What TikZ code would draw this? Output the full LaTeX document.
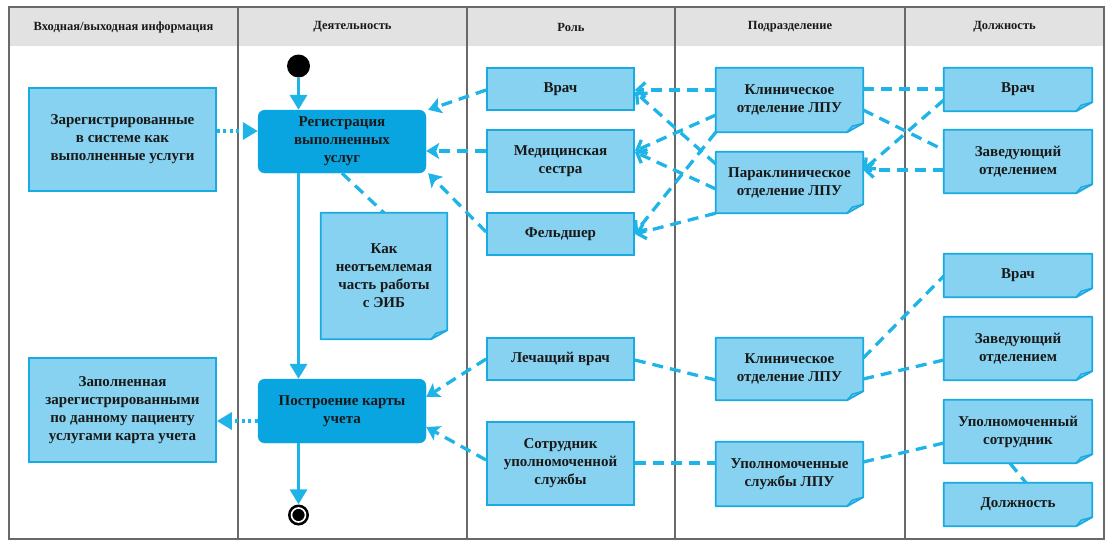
\documentclass[tikz,border=0pt]{standalone}
\usepackage{fontspec}
\setmainfont{Liberation Serif}
\usetikzlibrary{arrows.meta,backgrounds}

\definecolor{frame}{RGB}{105,105,105}
\definecolor{headfill}{RGB}{226,226,226}
\definecolor{boxfill}{RGB}{135,210,240}
\definecolor{boxline}{RGB}{25,170,225}
\definecolor{actfill}{RGB}{8,165,225}
\definecolor{link}{RGB}{30,180,232}
\definecolor{ink}{RGB}{25,25,25}

% outline of a UML note with a folded lower right corner
\newcommand\noteoutline[1]{%
  \path[notebg] (#1.north west) -- (#1.north east) -- ([yshift=9pt]#1.south east)
    -- ([xshift=-16pt]#1.south east) -- (#1.south west) -- cycle;
  \draw[notefold] ([xshift=-16pt]#1.south east) -- ([xshift=-11pt,yshift=6pt]#1.south east)
    -- ([yshift=9pt]#1.south east);
}

\tikzset{
  x=1pt, y=-1pt,
  headtext/.style={font=\fontsize{12.5}{15}\selectfont\bfseries, text=ink},
  txt/.style={inner sep=0pt, align=center, text=ink,
    font=\fontsize{15}{18}\selectfont\bfseries},
  box/.style={txt, draw=boxline, fill=boxfill, line width=1.8pt},
  note/.style={txt},
  notebg/.style={fill=boxfill, draw=boxline, line width=1.8pt, line join=round},
  notefold/.style={draw=boxline, line width=1.5pt, line join=round},
  act/.style={txt, draw=actfill, fill=actfill, rounded corners=7pt},
  flow/.style={draw=link, line width=3.4pt, -{Triangle[length=15pt,width=17pt]}},
  dataflow/.style={draw=link, line width=3.4pt, dash pattern=on 3pt off 3.5pt,
    -{Triangle[length=15pt,width=17pt]}},
  dep/.style={draw=link, line width=3.3pt, dash pattern=on 11pt off 7pt},
  toact/.style={dep, -{Stealth[length=13pt,width=16pt,inset=3pt]}},
  torole/.style={dep, -{Straight Barb[length=8pt,width=15pt]}},
}

\begin{document}
\begin{tikzpicture}
\useasboundingbox (0,0) rectangle (1108,542);

% swimlane frame
\fill[headfill] (9,7) rectangle (1104,46);
\draw[frame, line width=1.5pt] (9,7) rectangle (1104,539);
\foreach \xl in {238,467,675,905}
  \draw[frame, line width=1.5pt] (\xl,7) -- (\xl,539);

\node[headtext] (hIn)   at (123.5,27) {Входная/выходная информация};
\node[headtext] (hAct)  at (352.5,27) {Деятельность};
\node[headtext] (hRole) at (571,27)   {Роль};
\node[headtext] (hDept) at (790,27)   {Подразделение};
\node[headtext] (hPos)  at (1004.5,27) {Должность};

% input / output information
\node[box, minimum width=187pt, minimum height=103pt] (in1) at (122.5,139.5)
  {Зарегистрированные\\в системе как\\выполненные услуги};
\node[box, minimum width=187pt, minimum height=104pt] (out1) at (122.5,410)
  {Заполненная\\зарегистрированными\\по данному пациенту\\услугами карта учета};

% activity lane
\node[circle, fill=black, minimum size=23pt, inner sep=0pt] (start) at (298.5,66) {};
\node[act, minimum width=168pt, minimum height=63pt] (reg) at (342,141.5)
  {Регистрация\\выполненных\\услуг};
\node[note, minimum width=126pt, minimum height=126pt] (note1) at (384,276)
  {Как\\неотъемлемая\\часть работы\\с ЭИБ};
\node[act, minimum width=168pt, minimum height=64pt] (build) at (342,411)
  {Построение карты\\учета};
\node[circle, fill=black, minimum size=21pt, inner sep=0pt] (end) at (298.5,515) {};
\node[circle, fill=black, draw=white, line width=1.6pt, minimum size=14pt, inner sep=0pt]
  (endcore) at (end) {};

% roles
\node[box, minimum width=147pt, minimum height=42pt] (rVrach) at (560.5,89) {Врач};
\node[box, minimum width=147pt, minimum height=62pt] (rSestra) at (560.5,161) {Медицинская\\сестра};
\node[box, minimum width=147pt, minimum height=42pt] (rFeld) at (560.5,234) {Фельдшер};
\node[box, minimum width=147pt, minimum height=42pt] (rLech) at (560.5,359) {Лечащий врач};
\node[box, minimum width=147pt, minimum height=83pt] (rSotr) at (560.5,463.5)
  {Сотрудник\\уполномоченной\\службы};

% departments
\node[note, minimum width=147pt, minimum height=64pt] (dKlin1) at (789.5,100) {Клиническое\\отделение ЛПУ};
\node[note, minimum width=147pt, minimum height=61pt] (dPara) at (789.5,182.5) {Параклиническое\\отделение ЛПУ};
\node[note, minimum width=147pt, minimum height=62pt] (dKlin2) at (789.5,369) {Клиническое\\отделение ЛПУ};
\node[note, minimum width=147pt, minimum height=64pt] (dUpol) at (789.5,474) {Уполномоченные\\службы ЛПУ};

% positions
\node[note, minimum width=148pt, minimum height=43pt] (pVrach1) at (1018,89.5) {Врач};
\node[note, minimum width=148pt, minimum height=63pt] (pZav1) at (1018,161.5) {Заведующий\\отделением};
\node[note, minimum width=148pt, minimum height=43pt] (pVrach2) at (1018,275.5) {Врач};
\node[note, minimum width=148pt, minimum height=63pt] (pZav2) at (1018,348.5) {Заведующий\\отделением};
\node[note, minimum width=148pt, minimum height=63pt] (pUpol) at (1018,431.5) {Уполномоченный\\сотрудник};
\node[note, minimum width=148pt, minimum height=43pt] (pDolzh) at (1018,504.5) {Должность};

\begin{pgfonlayer}{background}
  \foreach \n in {note1,dKlin1,dPara,dKlin2,dUpol,pVrach1,pZav1,pVrach2,pZav2,pUpol,pDolzh}
    {\noteoutline{\n}}
\end{pgfonlayer}

% control flow
\draw[flow] (start.south) -- (start |- reg.north);
\draw[flow] (reg.south -| start) -- (build.north -| start);
\draw[flow] (build.south -| end) -- (end.north);

% object flow
\draw[dataflow] (in1.east |- 0,131) -- (reg.west |- 0,131);
\draw[dataflow] (build.west |- 0,421) -- (out1.east |- 0,421);

% note attachment
\draw[dep] (reg.south) -- (note1.north);

% roles to activities
\draw[toact] (rVrach.west |- 0,90) -- ([xshift=2pt]reg.north east);
\draw[toact] (rSestra.west |- 0,151) -- (reg.east |- 0,151);
\draw[toact] (rFeld.west |- 0,232) -- ([xshift=2pt]reg.south east);
\draw[toact] (rLech.west |- 0,359) -- (build.east |- 0,397);
\draw[toact] (rSotr.west |- 0,460) -- (build.east |- 0,427);

% departments to roles
\draw[torole] (dKlin1.west |- 0,90) -- (rVrach.east |- 0,90);
\draw[torole] (dPara.west |- 0,164) -- (rVrach.east |- 0,92);
\draw[torole] (dKlin1.west |- 0,115) -- (rSestra.east |- 0,151);
\draw[torole] (dPara.west |- 0,189) -- (rSestra.east |- 0,152);
\draw[torole] (dKlin1.south west) -- (rFeld.east |- 0,233);
\draw[torole] (dPara.south west) -- (rFeld.east |- 0,234);
\draw[dep] (rLech.east |- 0,360) -- (dKlin2.west |- 0,380);
\draw[dep] (rSotr.east |- 0,463) -- (dUpol.west |- 0,463);

% positions to departments
\draw[dep] (dKlin1.east |- 0,89) -- (pVrach1.west |- 0,89);
\draw[dep] (dKlin1.east |- 0,110) -- (pZav1.west |- 0,150);
\draw[torole] (pZav1.west |- 0,170) -- (dPara.east |- 0,170);
\draw[torole] (pVrach1.west |- 0,100) -- (dPara.east |- 0,170);
\draw[dep] (dKlin2.east |- 0,358) -- (pVrach2.west |- 0,276);
\draw[dep] (dKlin2.east |- 0,379) -- (pZav2.west |- 0,360);
\draw[dep] (dUpol.east |- 0,462) -- (pUpol.west |- 0,443);
\draw[dep] ([xshift=-8pt]pUpol.south) -- ([xshift=8pt]pDolzh.north);
\end{tikzpicture}
\end{document}
